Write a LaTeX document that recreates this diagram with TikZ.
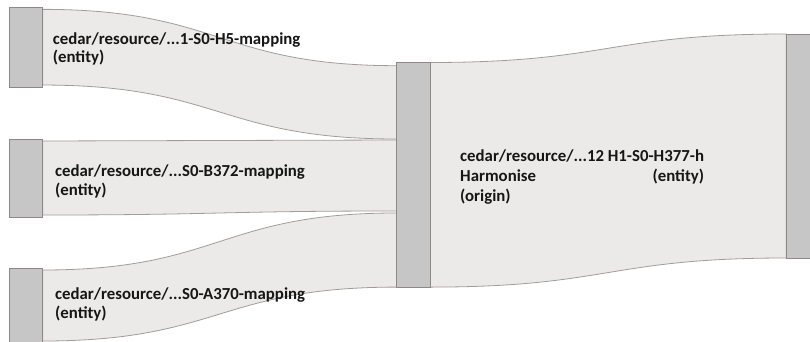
\documentclass[tikz,border=0pt]{standalone}
\usepackage{fontspec}
\setmainfont{Carlito}
\usetikzlibrary{calc}
\definecolor{nodefill}{HTML}{C6C6C6}
\definecolor{nodeline}{HTML}{8E8886}
\definecolor{flowfill}{HTML}{EBEAE9}
\definecolor{flowline}{HTML}{A29C99}
\definecolor{txt}{HTML}{161616}
\newlength{\mylinewd}
\newcommand{\lblfont}{\bfseries\fontsize{16.8}{19}\selectfont}
\tikzset{
  bar/.style={draw=nodeline, fill=nodefill, line width=0.9pt, minimum width=33.7pt, inner sep=0pt, outer sep=0pt},
  flowband/.style={draw=flowline, fill=flowfill, line width=0.8pt},
  lbl/.style={font=\lblfont, text=txt, anchor=north west, inner sep=0pt, align=left}
}
\newcommand{\band}[4]{% left-top, left-bottom, right-top, right-bottom (coordinates)
  \path let \p1=(#1), \p2=(#2), \p3=(#3), \p4=(#4), \n1={(\x1+\x3)/2} in
    [flowband] (\p1) .. controls (\n1,\y1) and (\n1,\y3) .. (\p3) -- (\p4)
    .. controls (\n1,\y4) and (\n1,\y2) .. (\p2) -- cycle;}
\begin{document}
\settowidth{\mylinewd}{\lblfont cedar/resource/...12 H1-S0-H377-h}%
\begin{tikzpicture}[x=1pt,y=-1pt]
\useasboundingbox (0,0) rectangle (810,342);
% node bars (positions)
\path (25.85,47.2) node[bar, minimum height=79.7pt] (n1) {};
\path (25.85,178) node[bar, minimum height=78pt] (n2) {};
\path (25.85,306.5) node[bar, minimum height=77pt] (n3) {};
\path (413.6,174.8) node[bar, minimum height=224.6pt] (m) {};
\path (803,146) node[bar, minimum height=224pt] (r) {};
% flow end coordinates
\coordinate (a1) at ($(n1.north east)+(0,2)$);
\coordinate (b1) at ($(n1.south east)+(0,-2)$);
\coordinate (c1) at ($(m.north west)+(0,3.2)$);
\coordinate (d1) at ($(m.north west)+(0,76.5)$);
\coordinate (a2) at ($(n2.north east)+(0,2)$);
\coordinate (b2) at ($(n2.south east)+(0,-2)$);
\coordinate (c2) at ($(m.north west)+(0,77.5)$);
\coordinate (d2) at ($(m.north west)+(0,148.5)$);
\coordinate (a3) at ($(n3.north east)+(0,2)$);
\coordinate (b3) at ($(n3.south east)+(0,-4)$);
\coordinate (c3) at ($(m.north west)+(0,150.5)$);
\coordinate (d3) at ($(m.south west)$);
\coordinate (a4) at (m.north east);
\coordinate (b4) at (m.south east);
\coordinate (c4) at (r.north west);
\coordinate (d4) at (r.south west);
% flows
\band{a1}{b1}{c1}{d1}
\band{a2}{b2}{c2}{d2}
\band{a3}{b3}{c3}{d3}
\band{a4}{b4}{c4}{d4}
% redraw bars on top
\path (25.85,47.2) node[bar, minimum height=79.7pt] {};
\path (25.85,178) node[bar, minimum height=78pt] {};
\path (25.85,306.5) node[bar, minimum height=77pt] {};
\path (413.6,174.8) node[bar, minimum height=224.6pt] {};
\path (803,146) node[bar, minimum height=224pt] {};
% labels
\node[lbl, font=\bfseries\fontsize{16.8}{17.5}\selectfont] (l1) at (52.7,33) {cedar/resource/...1-S0-H5-mapping\\(entity)};
\node[lbl] (l2) at (55,164.5) {cedar/resource/...S0-B372-mapping\\(entity)};
\node[lbl] (l3) at (55,288) {cedar/resource/...S0-A370-mapping\\(entity)};
\node[lbl, font=\bfseries\fontsize{16.8}{20}\selectfont] (lm) at (460,150) {cedar/resource/...12 H1-S0-H377-h\\
  \makebox[\mylinewd][s]{Harmonise\hfill(entity)}\\(origin)};
\end{tikzpicture}
\end{document}
